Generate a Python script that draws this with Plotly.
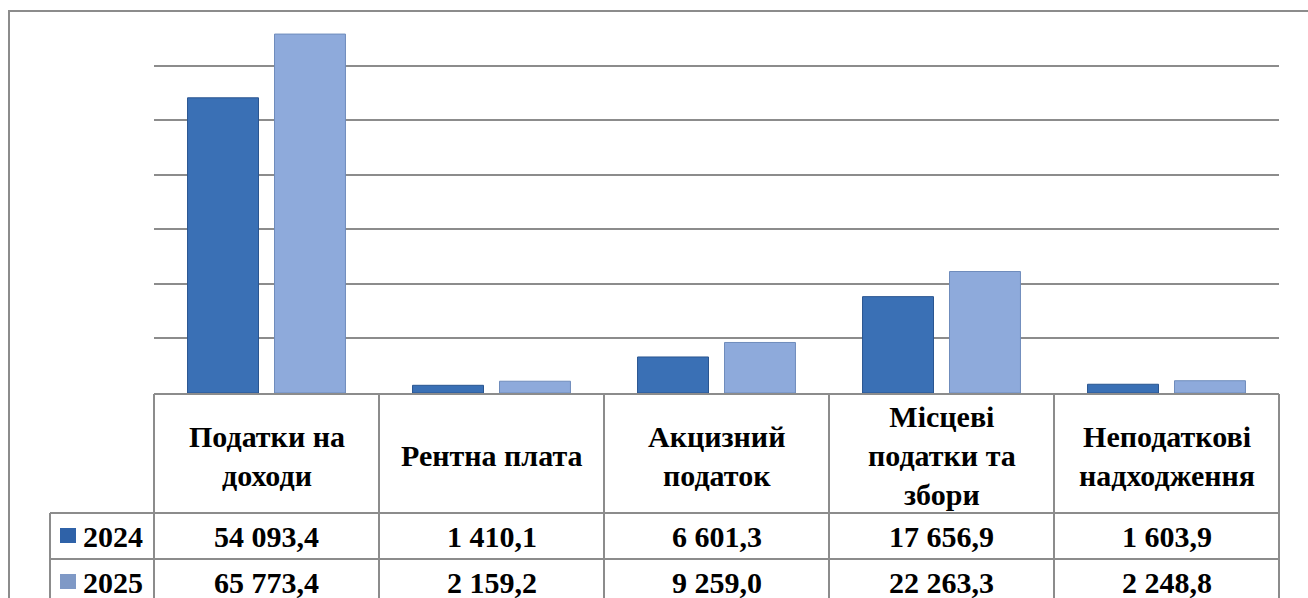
import plotly.graph_objects as go

categories = ["Податки на<br>доходи", "Рентна плата", "Акцизний<br>податок",
              "Місцеві<br>податки та<br>збори", "Неподаткові<br>надходження"]
series_names = ["2024", "2025"]
values_2024 = [54093.4, 1410.1, 6601.3, 17656.9, 1603.9]
values_2025 = [65773.4, 2159.2, 9259.0, 22263.3, 2248.8]

W, H = 1308, 598
L, R, T, B = 154, 29, 11, 205
PW, PH = W - L - R, H - T - B

def px(x):
    return (x - L) / PW

def py(y):
    return (H - B - y) / PH

def fmt(v):
    s = f"{v:,.1f}"
    return s.replace(",", " ").replace(".", ",")

fill = ["#3a70b5", "#8eaadb"]
edge = ["#2a5590", "#6f8cbc"]
swatch = ["#2f62a8", "#7f99c6"]
grid = "#8c8c8c"
FONT = "Liberation Serif"

x_idx = list(range(len(categories)))
fig = go.Figure()
for k, (name, vals) in enumerate(zip(series_names, [values_2024, values_2025])):
    fig.add_trace(go.Bar(x=x_idx, y=vals, name=name,
                         marker=dict(color=fill[k], line=dict(color=edge[k], width=1)),
                         showlegend=False, hoverinfo="skip"))

shapes = []
ann = []
lc = dict(color=grid, width=2)
shapes.append(dict(type="rect", xref="paper", yref="paper",
                   x0=px(9), x1=px(1320), y0=py(11), y1=py(620), line=lc))
n = len(categories)
y_top, y_hdr, y_r1, y_r2 = 394, 513, 559, 605
shapes.append(dict(type="line", xref="paper", yref="paper", x0=0, x1=1, y0=py(y_top), y1=py(y_top), line=lc))
for yy in (y_hdr, y_r1, y_r2):
    shapes.append(dict(type="line", xref="paper", yref="paper", x0=px(50), x1=1, y0=py(yy), y1=py(yy), line=lc))
shapes.append(dict(type="line", xref="paper", yref="paper", x0=px(50), x1=px(50), y0=py(y_hdr), y1=py(y_r2), line=lc))
for i in range(n + 1):
    shapes.append(dict(type="line", xref="paper", yref="paper", x0=i / n, x1=i / n,
                       y0=py(y_top), y1=py(y_r2), line=lc))

tf = dict(family=FONT, size=30, color="black")
for i, c in enumerate(categories):
    xc = (i + 0.5) / n
    ann.append(dict(x=xc, y=py((y_top + y_hdr) / 2 + 2), xref="paper", yref="paper", text=f"<b>{c}</b>",
                    showarrow=False, font=tf, xanchor="center", yanchor="middle", align="center"))
    ann.append(dict(x=xc, y=py((y_hdr + y_r1) / 2), xref="paper", yref="paper", text=f"<b>{fmt(values_2024[i])}</b>",
                    showarrow=False, font=tf, xanchor="center", yanchor="middle"))
    ann.append(dict(x=xc, y=py((y_r1 + y_r2) / 2), xref="paper", yref="paper", text=f"<b>{fmt(values_2025[i])}</b>",
                    showarrow=False, font=tf, xanchor="center", yanchor="middle"))

for k, (name, (a, b)) in enumerate(zip(series_names, [(y_hdr, y_r1), (y_r1, y_r2)])):
    yc = (a + b) / 2
    shapes.append(dict(type="rect", xref="paper", yref="paper", x0=px(60), x1=px(76),
                       y0=py(yc - 8), y1=py(yc + 7), line=dict(width=0), fillcolor=swatch[k]))
    ann.append(dict(x=px(81), y=py(yc), xref="paper", yref="paper", text=f"<b>{name}</b>",
                    showarrow=False, font=tf, xanchor="left", yanchor="middle"))

fig.update_layout(
    width=W, height=H,
    margin=dict(l=L, r=R, t=T, b=B, pad=0),
    paper_bgcolor="white", plot_bgcolor="white",
    font=dict(family=FONT),
    barmode="group", bargap=0.227, bargroupgap=0.184,
    xaxis=dict(range=[-0.5, n - 0.5], showticklabels=False, showgrid=False, zeroline=False,
               showline=False, ticks=""),
    yaxis=dict(range=[0, 70000], dtick=10000, showticklabels=False, showgrid=True,
               gridcolor=grid, gridwidth=2, zeroline=False, showline=False, ticks=""),
    shapes=shapes, annotations=ann,
)
fig.write_html("out.html", config={"displayModeBar": False},
               post_script="document.body.style.margin='0';document.body.style.overflow='hidden';")
